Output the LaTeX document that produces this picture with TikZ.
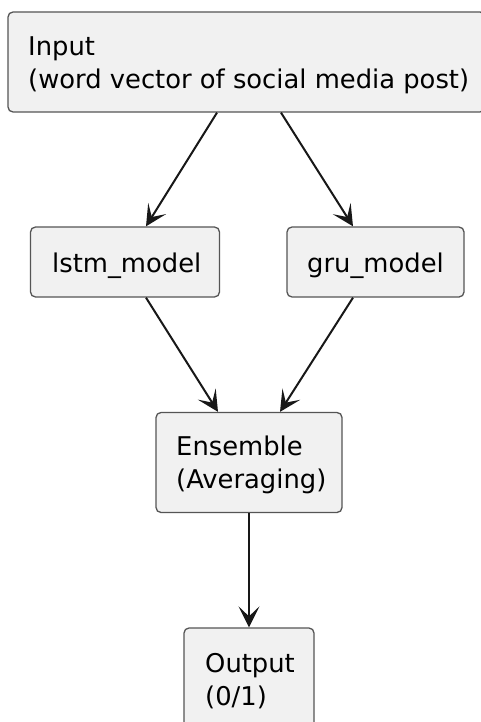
\documentclass[tikz,border=0pt]{standalone}
\usepackage{fontspec}
\setmainfont{DejaVu Sans}
\usetikzlibrary{arrows.meta}
\definecolor{boxfill}{HTML}{F1F1F1}
\definecolor{boxline}{HTML}{555555}
\definecolor{arrowcol}{HTML}{181818}
\tikzset{
  box/.style={draw=boxline, fill=boxfill, line width=1.3pt, rounded corners=5pt, inner sep=0pt},
  lbl/.style={anchor=base west, inner sep=0pt, align=left, font=\fontsize{25.8}{33}\selectfont, text=black},
  conn/.style={draw=arrowcol, line width=2pt, -{Stealth[length=21pt,width=21pt,inset=10pt]}}
}
\begin{document}
\begin{tikzpicture}[x=1pt,y=-1pt]
\useasboundingbox (0,0) rectangle (481,722);
\fill[white] (0,0) rectangle (481,722);
% boxes
\node[box, minimum width=477pt, minimum height=100pt] (input) at (246.5,62) {};
\node[box, minimum width=189pt, minimum height=70pt] (lstm) at (125,262) {};
\node[box, minimum width=177pt, minimum height=70pt] (gru) at (375.5,262) {};
\node[box, minimum width=186pt, minimum height=100pt] (ens) at (249,462.5) {};
\node[box, minimum width=130pt, minimum height=110pt] (out) at (249,683) {};
% labels
\node[lbl] (inputT) at (28,89) {Input\\(word vector of social media post)};
\node[lbl] (lstmT) at (52,272) {lstm\_model};
\node[lbl] (gruT) at (307,272) {gru\_model};
\node[lbl] (ensT) at (176,488) {Ensemble\\(Averaging)};
\node[lbl] (outT) at (205,705) {Output\\(0/1)};
% connectors
\draw[conn] ([xshift=-29.5pt]input.south) -- ([xshift=21pt]lstm.north);
\draw[conn] ([xshift=34.5pt]input.south) -- ([xshift=-22.5pt]gru.north);
\draw[conn] ([xshift=21pt]lstm.south) -- ([xshift=-31pt]ens.north);
\draw[conn] ([xshift=-22.5pt]gru.south) -- ([xshift=31pt]ens.north);
\draw[conn] (ens.south) -- (out.north);
\end{tikzpicture}
\end{document}
